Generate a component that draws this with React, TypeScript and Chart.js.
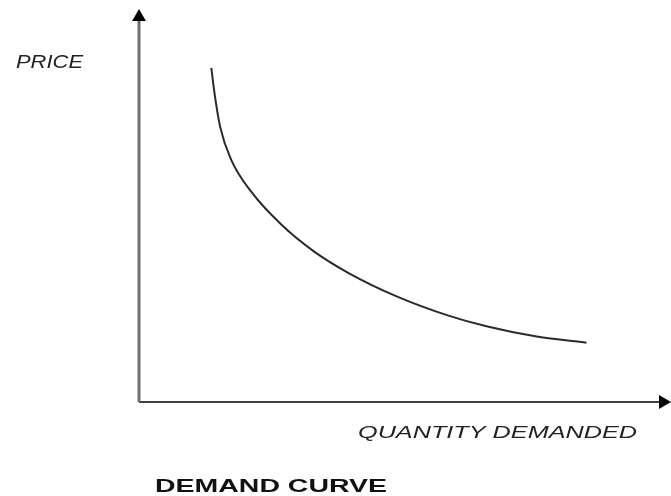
import React, { useEffect, useRef } from 'react';
import { Chart, registerables } from 'chart.js';

Chart.register(...registerables);

// Demand curve (quantity 0..100, price 0..100)
const curveQuantity = [13.8, 14.4, 15.5, 17.6, 21.6, 27.3, 33.3, 40.0, 49.4, 58.9, 66.5, 75.9, 85.4];
const curvePrice = [86.8, 80.3, 71.4, 62.9, 54.3, 45.9, 39.2, 33.5, 27.3, 22.5, 19.6, 17.0, 15.4];

const axisMin = 0;
const axisMax = 100;

const yAxisLabel = 'PRICE';
const xAxisLabel = 'QUANTITY DEMANDED';
const chartTitle = 'DEMAND CURVE';

type TextSpec = { text: string; x: number; y: number; width: number; font: string; color: string };

const textPlugin = {
  id: 'stretchedText',
  afterDraw(chart: any) {
    const ctx = chart.ctx as CanvasRenderingContext2D;
    const specs: TextSpec[] = [
      { text: yAxisLabel, x: 16, y: 68, width: 67, font: 'italic 18px "Liberation Sans", Arial, sans-serif', color: '#222' },
      { text: xAxisLabel, x: 358, y: 438, width: 279, font: 'italic 16px "Liberation Sans", Arial, sans-serif', color: '#222' },
      { text: chartTitle, x: 155, y: 492, width: 232, font: 'bold 19px "Liberation Sans", Arial, sans-serif', color: '#111' },
    ];
    for (const s of specs) {
      ctx.save();
      ctx.font = s.font;
      ctx.fillStyle = s.color;
      ctx.textBaseline = 'alphabetic';
      ctx.textAlign = 'left';
      const w = ctx.measureText(s.text).width;
      const sx = s.width / w;
      ctx.translate(s.x, s.y);
      ctx.scale(sx, 1);
      ctx.fillText(s.text, 0, 0);
      ctx.restore();
    }
  },
};

export default function App() {
  const ref = useRef<HTMLCanvasElement | null>(null);

  useEffect(() => {
    if (!ref.current) return;
    const curve = curveQuantity.map((q, i) => ({ x: q, y: curvePrice[i] }));
    const chart = new Chart(ref.current, {
      type: 'scatter',
      data: {
        datasets: [
          {
            label: 'Price axis',
            data: [
              { x: axisMin, y: axisMin },
              { x: axisMin, y: axisMax },
            ],
            showLine: true,
            borderColor: '#6f6f6f',
            borderWidth: 3,
            pointStyle: [false, 'triangle'] as any,
            pointRadius: [0, 8],
            pointRotation: 0,
            pointBackgroundColor: '#000',
            pointBorderColor: '#000',
            pointBorderWidth: 0,
            clip: false as any,
          },
          {
            label: 'Quantity axis',
            data: [
              { x: axisMin, y: axisMin },
              { x: axisMax, y: axisMin },
            ],
            showLine: true,
            borderColor: '#404040',
            borderWidth: 2,
            pointStyle: [false, 'triangle'] as any,
            pointRadius: [0, 8],
            pointRotation: 90,
            pointBackgroundColor: '#000',
            pointBorderColor: '#000',
            pointBorderWidth: 0,
            clip: false as any,
          },
          {
            label: 'Demand',
            data: curve,
            showLine: true,
            borderColor: '#2a2a2a',
            borderWidth: 2,
            cubicInterpolationMode: 'monotone',
            pointRadius: 0,
            clip: false as any,
          },
        ],
      },
      options: {
        animation: false,
        responsive: true,
        maintainAspectRatio: false,
        events: [],
        layout: { padding: { left: 139, right: 4, top: 17, bottom: 94 } },
        plugins: {
          legend: { display: false },
          tooltip: { enabled: false },
          title: { display: false },
        },
        scales: {
          x: { type: 'linear', min: axisMin, max: axisMax, display: false },
          y: { type: 'linear', min: axisMin, max: axisMax, display: false },
        },
      },
      plugins: [textPlugin],
    });
    return () => chart.destroy();
  }, []);

  return (
    <div style={{ position: 'fixed', left: 0, top: 0, width: 671, height: 496, background: '#fff' }}>
      <canvas ref={ref} />
    </div>
  );
}
